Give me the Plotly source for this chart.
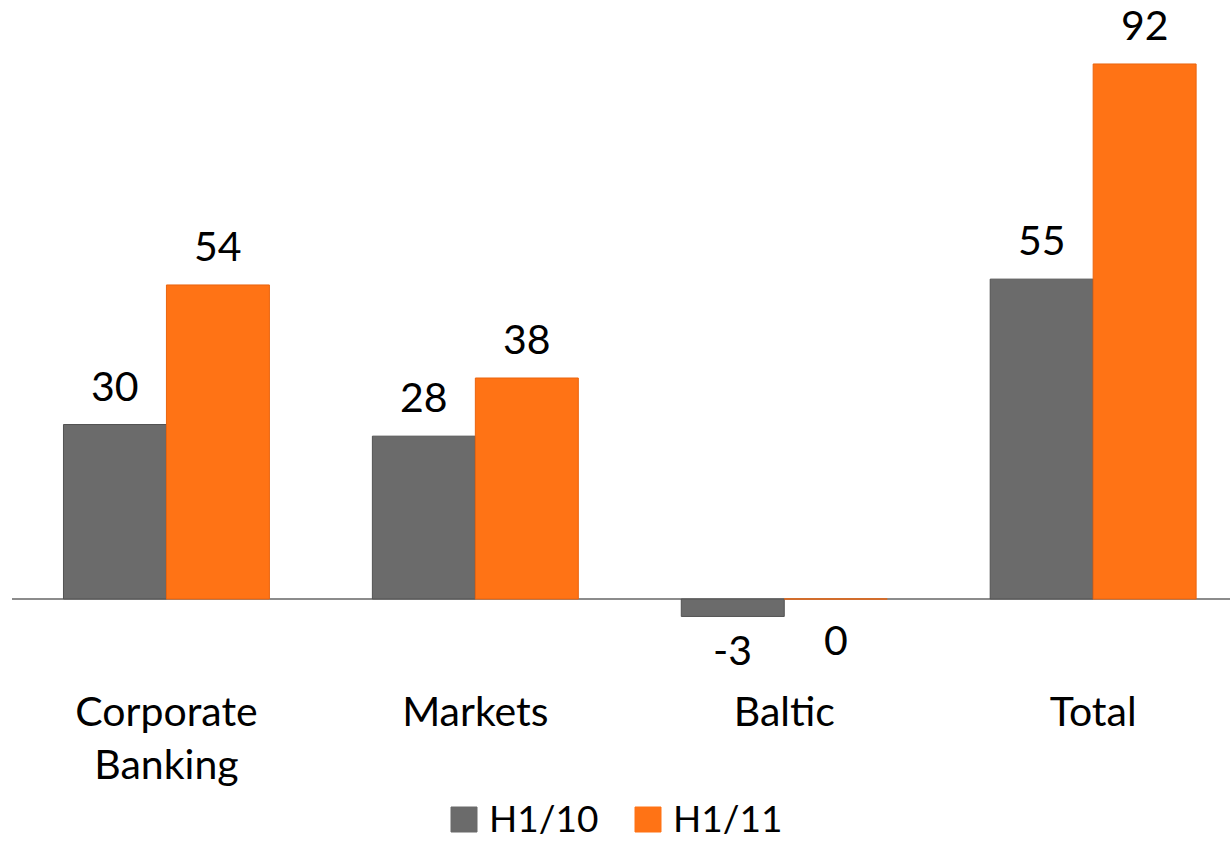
import plotly.graph_objects as go

categories = ["Corporate<br>Banking", "Markets", "Baltic", "Total"]
h1_10 = [30, 28, -3, 55]
h1_11 = [54, 38, 0, 92]
series_names = ["H1/10", "H1/11"]

GREY = "#6b6b6b"
ORANGE = "#ff7315"
FONT = "Lato, 'Open Sans', sans-serif"

W, H = 1230, 841
ML, MT, MB = 12, 0, 161
PW, PH = W - ML, H - MT - MB


def px_x(px):
    return (px - ML) / PW


def px_y(py):
    return 1 - (py - MT) / PH


fig = go.Figure()
idx = list(range(len(categories)))

fig.add_trace(go.Bar(
    x=idx, y=h1_10, name=series_names[0], showlegend=False,
    marker=dict(color=GREY, line=dict(color="#525252", width=1)),
))
fig.add_trace(go.Bar(
    x=idx, y=h1_11, name=series_names[1], showlegend=False,
    marker=dict(color=ORANGE, line=dict(color="#ea640f", width=1)),
))

# value labels over / under each bar
half = 1 / 6
for vals, off in [(h1_10, -half), (h1_11, half)]:
    for i, v in enumerate(vals):
        if v > 0:
            fig.add_annotation(x=i + off, y=v, text=str(v), showarrow=False,
                               yanchor="bottom", yshift=13,
                               font=dict(size=41, color="#000", family=FONT))
        elif v < 0:
            fig.add_annotation(x=i + off, y=v, text=str(v), showarrow=False,
                               yanchor="top", yshift=-7,
                               font=dict(size=41, color="#000", family=FONT))
        else:
            fig.add_annotation(x=i + off, y=0, text=str(v), showarrow=False,
                               yanchor="top", yshift=-14,
                               font=dict(size=41, color="#000", family=FONT))

# legend drawn as square swatches with text beside them
legend_items = [(series_names[0], GREY, 451), (series_names[1], ORANGE, 635)]
for name, col, left in legend_items:
    fig.add_shape(type="rect", xref="paper", yref="paper",
                  x0=px_x(left), x1=px_x(left + 26),
                  y0=px_y(832), y1=px_y(807),
                  fillcolor=col, line=dict(color=col, width=1))
    fig.add_annotation(xref="paper", yref="paper", x=px_x(left + 37), y=px_y(817),
                       xanchor="left", yanchor="middle", text=name, showarrow=False,
                       borderpad=0,
                       font=dict(size=37, color="#000", family=FONT))

fig.update_layout(
    width=W, height=H,
    margin=dict(l=ML, r=0, t=MT, b=MB),
    plot_bgcolor="white", paper_bgcolor="white",
    barmode="group", bargap=1 / 3, bargroupgap=0,
    showlegend=False,
    font=dict(family=FONT, size=41, color="#000"),
    xaxis=dict(
        range=[-0.5, 3.443], tickmode="array", tickvals=idx, ticktext=categories,
        showgrid=False, zeroline=False, showline=False, ticks="",
        tickfont=dict(size=41, family=FONT), ticklabelstandoff=4,
    ),
    yaxis=dict(
        range=[-13.93, 103.0], showticklabels=False, showgrid=False, ticks="",
        zeroline=True, zerolinecolor="#8c8c8c", zerolinewidth=2,
    ),
)

fig.write_html("out.html")
